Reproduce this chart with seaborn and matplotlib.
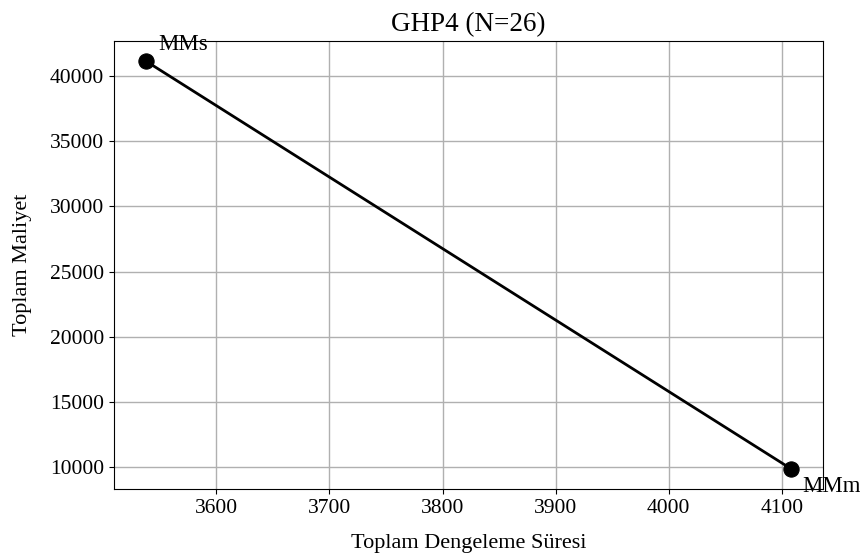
import matplotlib
matplotlib.use('Agg')
import pandas as pd
import matplotlib.pyplot as plt
import seaborn as sns

# two solutions on the cost / balancing-time front
labels = ['MMs', 'MMm']
sure = [3538, 4108]
maliyet = [41100, 9900]

df = pd.DataFrame({'sure': sure, 'maliyet': maliyet, 'label': labels})

plt.rcParams['font.family'] = ['Liberation Serif', 'DejaVu Serif']

fig, ax = plt.subplots(figsize=(8.6, 5.59), dpi=100)
fig.subplots_adjust(left=0.1326, right=0.957, top=0.9267, bottom=0.1252)

sns.lineplot(data=df, x='sure', y='maliyet', color='black', linewidth=2,
             marker='o', markersize=11, markeredgecolor='black', ax=ax)

# point labels
ax.annotate(labels[0], (sure[0], maliyet[0]), xytext=(9, 8),
            textcoords='offset points', fontsize=16.5, annotation_clip=False)
ax.annotate(labels[1], (sure[1], maliyet[1]), xytext=(8, -17),
            textcoords='offset points', fontsize=16.5, annotation_clip=False)

ax.grid(True, color='#b0b0b0', linewidth=1)
ax.set_axisbelow(True)
ax.tick_params(labelsize=15.5)
ax.set_xlabel('Toplam Dengeleme Süresi', fontsize=16, labelpad=12)
ax.set_ylabel('Toplam Maliyet', fontsize=16, labelpad=13)
ax.set_title('GHP4 (N=26)', fontsize=19.5, pad=7)

plt.savefig('out.png', dpi=100)
